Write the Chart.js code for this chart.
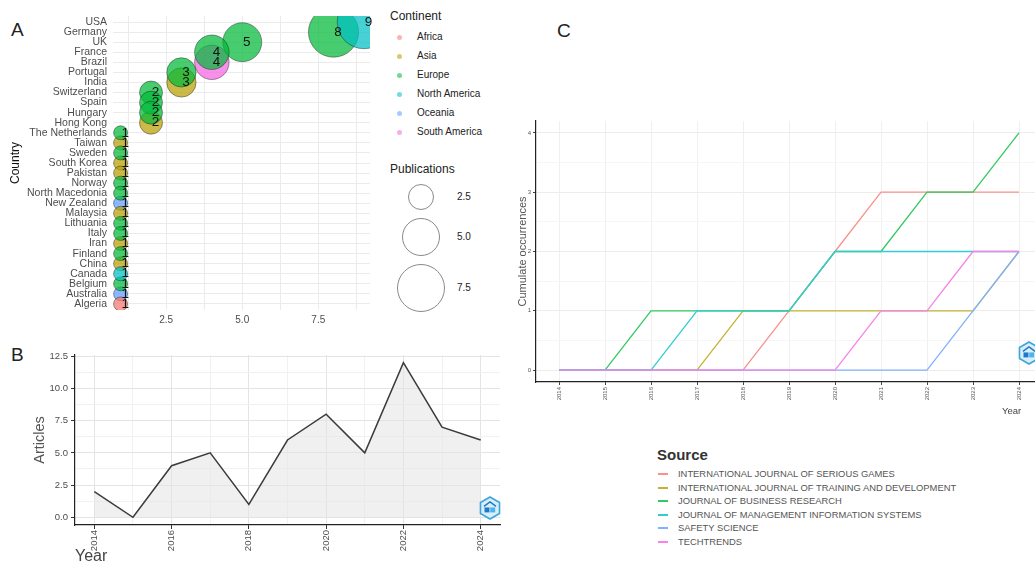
<!DOCTYPE html>
<html>
<head>
<meta charset="utf-8">
<script src="https://cdn.jsdelivr.net/npm/chart.js@4.4.1/dist/chart.umd.min.js"></script>
<style>
  html, body { margin: 0; padding: 0; background: #fff; }
  body { width: 1035px; height: 566px; position: relative; overflow: hidden; font-family: "Liberation Sans", Arial, sans-serif; }
  .abs { position: absolute; }
  .tag { position: absolute; font-size: 19px; line-height: 20px; color: #222; }
  .leg { position: absolute; white-space: nowrap; color: #222; }
</style>
</head>
<body>
<div class="tag" style="left:11px;top:20px">A</div>
<div class="tag" style="left:11px;top:345px">B</div>
<div class="tag" style="left:557px;top:21px">C</div>

<canvas id="chartA" class="abs" style="left:0;top:0" width="380" height="330"></canvas>
<canvas id="chartB" class="abs" style="left:0;top:335px" width="510" height="231"></canvas>
<canvas id="chartC" class="abs" style="left:510px;top:0" width="540" height="420"></canvas>

<div id="legendA"></div>
<div id="legendC"></div>
<div class="leg" style="left:1002px;top:405px;font-size:9.5px;color:#444">Year</div>

<script>
// ---- panel A: country production ----
const countries = ["USA", "Germany", "UK", "France", "Brazil", "Portugal", "India", "Switzerland", "Spain",
  "Hungary", "Hong Kong", "The Netherlands", "Taiwan", "Sweden", "South Korea", "Pakistan", "Norway",
  "North Macedonia", "New Zealand", "Malaysia", "Lithuania", "Italy", "Iran", "Finland", "China", "Canada",
  "Belgium", "Australia", "Algeria"];
const publications = [9, 8, 5, 4, 4, 3, 3, 2, 2, 2, 2, 1, 1, 1, 1, 1, 1, 1, 1, 1, 1, 1, 1, 1, 1, 1, 1, 1, 1];
const countryContinent = ["North America", "Europe", "Europe", "Europe", "South America", "Europe", "Asia",
  "Europe", "Europe", "Europe", "Asia", "Europe", "Asia", "Europe", "Asia", "Asia", "Europe", "Europe",
  "Oceania", "Asia", "Europe", "Europe", "Asia", "Europe", "Asia", "North America", "Europe", "Oceania", "Africa"];
const continents = ["Africa", "Asia", "Europe", "North America", "Oceania", "South America"];
const continentColors = ["#F8766D", "#B79F00", "#00BA38", "#00BFC4", "#619CFF", "#F564E3"];
const sizeLegendValues = [2.5, 5.0, 7.5];

// ---- panel B: annual production ----
const years = [2014, 2015, 2016, 2017, 2018, 2019, 2020, 2021, 2022, 2023, 2024];
const articles = [2, 0, 4, 5, 1, 6, 8, 5, 12, 7, 6];

// ---- panel C: sources' cumulative occurrences ----
const sources = ["INTERNATIONAL JOURNAL OF SERIOUS GAMES", "INTERNATIONAL JOURNAL OF TRAINING AND DEVELOPMENT",
  "JOURNAL OF BUSINESS RESEARCH", "JOURNAL OF MANAGEMENT INFORMATION SYSTEMS", "SAFETY SCIENCE", "TECHTRENDS"];
const sourceColors = ["#F8766D", "#B79F00", "#00BA38", "#00BFC4", "#619CFF", "#F564E3"];
const cumSeriousGames = [0, 0, 0, 0, 0, 1, 2, 3, 3, 3, 3];
const cumTraining     = [0, 0, 0, 0, 1, 1, 1, 1, 1, 1, 2];
const cumBusiness     = [0, 0, 1, 1, 1, 1, 2, 2, 3, 3, 4];
const cumMIS          = [0, 0, 0, 1, 1, 1, 2, 2, 2, 2, 2];
const cumSafety       = [0, 0, 0, 0, 0, 0, 0, 0, 0, 1, 2];
const cumTechtrends   = [0, 0, 0, 0, 0, 0, 0, 1, 1, 2, 2];
const cumSeries = [cumSeriousGames, cumTraining, cumBusiness, cumMIS, cumSafety, cumTechtrends];

function rgba(hex, a) {
  const n = parseInt(hex.slice(1), 16);
  return `rgba(${n >> 16},${(n >> 8) & 255},${n & 255},${a})`;
}
// solid colour blended toward white
function lighten(hex, t) {
  const n = parseInt(hex.slice(1), 16);
  const f = c => Math.round(c + (255 - c) * t);
  return `rgb(${f(n >> 16)},${f((n >> 8) & 255)},${f(n & 255)})`;
}
function bubbleRadius(v) { return Math.sqrt(Math.max(4, -33.75 + 82.75 * v)); }
function stepTicks(min, max, step) {
  const out = [];
  for (let v = min; v <= max + 1e-9; v += step) out.push({ value: +v.toFixed(4) });
  return out;
}
function isMultiple(v, m) { return Math.abs(v / m - Math.round(v / m)) < 1e-6; }

const tickFont = { family: "Liberation Sans", size: 10.5 };
const greyText = "#4d4d4d";

// small hexagon badge (decoration in the corners of B and C)
function drawBadge(ctx, cx, cy, s) {
  ctx.save();
  ctx.beginPath();
  for (let k = 0; k < 6; k++) {
    const a = -Math.PI / 2 + k * Math.PI / 3;
    const px = cx + s * Math.cos(a), py = cy + s * Math.sin(a);
    k ? ctx.lineTo(px, py) : ctx.moveTo(px, py);
  }
  ctx.closePath();
  ctx.fillStyle = "#d8eef9";
  ctx.fill();
  ctx.lineWidth = 1.6;
  ctx.strokeStyle = "#3ea5dc";
  ctx.stroke();
  ctx.fillStyle = "#1f78c8";
  ctx.fillRect(cx - s * 0.5, cy - s * 0.05, s * 0.45, s * 0.45);
  ctx.fillStyle = "#4fb3e8";
  ctx.fillRect(cx + 0.02 * s, cy - s * 0.05, s * 0.45, s * 0.45);
  ctx.beginPath();
  ctx.moveTo(cx - s * 0.55, cy - s * 0.15);
  ctx.lineTo(cx, cy - s * 0.55);
  ctx.lineTo(cx + s * 0.55, cy - s * 0.15);
  ctx.strokeStyle = "#1f78c8";
  ctx.lineWidth = 1.4;
  ctx.stroke();
  ctx.restore();
}

// ---------------- Panel A ----------------
const bubbleLabels = {
  id: "bubbleLabels",
  afterDatasetsDraw(chart) {
    const { ctx, scales: { x, y } } = chart;
    ctx.save();
    ctx.font = "13.5px 'Liberation Sans'";
    ctx.fillStyle = "#111";
    ctx.textAlign = "center";
    ctx.textBaseline = "middle";
    countries.forEach((c, i) => {
      const v = publications[i];
      ctx.fillText(String(v), x.getPixelForValue(v + 0.15), y.getPixelForValue(countries.length - 1 - i));
    });
    ctx.restore();
  }
};

const continentOrder = { "North America": 0, "Europe": 1 };
new Chart(document.getElementById("chartA"), {
  type: "bubble",
  data: {
    datasets: continents.map((c, k) => ({
      label: c,
      data: countries
        .map((n, i) => ({ x: publications[i], y: countries.length - 1 - i, cont: countryContinent[i] }))
        .filter(p => p.cont === c),
      backgroundColor: rgba(continentColors[k], 0.72),
      borderColor: "rgba(30,30,30,0.55)",
      borderWidth: 0.8,
      radius: ctx => bubbleRadius(ctx.raw ? ctx.raw.x : 1),
      order: continentOrder[c] ?? 2
    }))
  },
  options: {
    responsive: false,
    animation: false,
    layout: { autoPadding: false, padding: { top: 16, right: 10 } },
    plugins: { legend: { display: false }, tooltip: { enabled: false } },
    scales: {
      x: {
        type: "linear", min: 0.75, max: 9.2,
        afterBuildTicks: s => { s.ticks = stepTicks(1.25, 8.75, 1.25); },
        afterFit: s => { s.height = 20; },
        grid: { color: "#ebebeb", drawTicks: false },
        border: { display: false },
        ticks: { autoSkip: false, padding: 4, color: greyText, font: { family: "Liberation Sans", size: 10 },
          callback: v => isMultiple(v, 2.5) ? v.toFixed(1) : "" }
      },
      y: {
        type: "linear", min: -0.6, max: countries.length - 0.4,
        afterBuildTicks: s => { s.ticks = stepTicks(0, countries.length - 1, 1); },
        afterFit: s => { s.width = 113; },
        grid: { color: "#ebebeb", drawTicks: false },
        border: { display: false },
        ticks: { autoSkip: false, padding: 6, color: greyText, font: tickFont,
          callback: v => countries[countries.length - 1 - v] },
        title: { display: true, text: "Country", color: "#111", font: { family: "Liberation Sans", size: 12 },
          padding: { top: 8, bottom: 0 } }
      }
    }
  },
  plugins: [bubbleLabels]
});

// Panel A legends (continent colours + bubble sizes)
(function () {
  const box = document.getElementById("legendA");
  let html = `<div class="leg" style="left:390px;top:9px;font-size:12px;line-height:15px">Continent</div>`;
  continents.forEach((c, k) => {
    const cy = 37 + 19 * k;
    html += `<div class="abs" style="left:397px;top:${cy - 2.5}px;width:5px;height:5px;border-radius:50%;background:${rgba(continentColors[k], 0.55)}"></div>`;
    html += `<div class="leg" style="left:417px;top:${cy - 7}px;font-size:10px;line-height:14px">${c}</div>`;
  });
  html += `<div class="leg" style="left:390px;top:162px;font-size:12px;line-height:15px">Publications</div>`;
  const centers = [197, 237, 288];
  sizeLegendValues.forEach((v, k) => {
    const r = bubbleRadius(v);
    html += `<div class="abs" style="left:${421 - r}px;top:${centers[k] - r}px;width:${2 * r - 2}px;height:${2 * r - 2}px;border:1px solid #8a8a8a;border-radius:50%"></div>`;
    html += `<div class="leg" style="left:457px;top:${centers[k] - 7}px;font-size:10px;line-height:14px">${v.toFixed(1)}</div>`;
  });
  box.innerHTML = html;
})();

// ---------------- Panel B ----------------
new Chart(document.getElementById("chartB"), {
  type: "line",
  data: {
    datasets: [{
      data: years.map((y, i) => ({ x: y, y: articles[i] })),
      borderColor: "#3b3b3b",
      borderWidth: 1.5,
      backgroundColor: "rgba(228,228,228,0.55)",
      fill: "origin",
      pointRadius: 0,
      tension: 0
    }]
  },
  options: {
    responsive: false,
    animation: false,
    layout: { autoPadding: false, padding: { top: 20, right: 10 } },
    plugins: { legend: { display: false }, tooltip: { enabled: false } },
    scales: {
      x: {
        type: "linear", min: 2013.5, max: 2024.5,
        afterBuildTicks: s => { s.ticks = years.map(v => ({ value: v })); },
        afterFit: s => { s.height = 41; },
        grid: { color: c => (c.tick && c.tick.value % 2 === 0) ? "#e4e4e4" : "#f1f1f1",
          tickColor: c => (c.tick && c.tick.value % 2 === 0) ? "#333" : "rgba(0,0,0,0)", tickLength: 4 },
        border: { display: true, color: "#222", width: 1.2 },
        ticks: { autoSkip: false, minRotation: 90, maxRotation: 90, padding: 1, color: greyText,
          font: { family: "Liberation Sans", size: 9.5 }, callback: v => v % 2 === 0 ? String(v) : "" },
        title: { display: true, text: "Year", align: "start", color: "#444",
          font: { family: "Liberation Sans", size: 16 }, padding: { top: 0, bottom: 0 } }
      },
      y: {
        type: "linear", min: -0.6, max: 12.6,
        afterBuildTicks: s => { s.ticks = stepTicks(0, 12.5, 1.25); },
        afterFit: s => { s.width = 75; },
        grid: { color: c => (c.tick && isMultiple(c.tick.value, 2.5)) ? "#e4e4e4" : "#f1f1f1",
          tickColor: c => (c.tick && isMultiple(c.tick.value, 2.5)) ? "#333" : "rgba(0,0,0,0)", tickLength: 4 },
        border: { display: true, color: "#222", width: 1.2 },
        ticks: { autoSkip: false, padding: 3, color: greyText, font: { family: "Liberation Sans", size: 9.5 },
          callback: v => isMultiple(v, 2.5) ? v.toFixed(1) : "" },
        title: { display: true, text: "Articles", color: "#555",
          font: { family: "Liberation Sans", size: 14.5 }, padding: { top: 31, bottom: 0 } }
      }
    }
  },
  plugins: [{
    id: "badgeB",
    afterDraw(chart) { drawBadge(chart.ctx, 490, 173, 11); }
  }]
});

// ---------------- Panel C ----------------
new Chart(document.getElementById("chartC"), {
  type: "line",
  data: {
    datasets: sources.map((s, k) => ({
      label: s,
      data: years.map((y, i) => ({ x: y, y: cumSeries[k][i] })),
      borderColor: lighten(sourceColors[k], 0.2),
      borderWidth: 1.3,
      pointRadius: 0,
      fill: false,
      tension: 0,
      order: sources.length - k
    }))
  },
  options: {
    responsive: false,
    animation: false,
    layout: { autoPadding: false, padding: { top: 121, right: 8 } },
    plugins: { legend: { display: false }, tooltip: { enabled: false } },
    scales: {
      x: {
        type: "linear", min: 2013.5, max: 2024.5,
        afterBuildTicks: s => { s.ticks = years.map(v => ({ value: v })); },
        afterFit: s => { s.height = 38; },
        grid: { color: "#f0f0f0", tickColor: "#444", tickLength: 3 },
        border: { display: true, color: "#222", width: 1.2 },
        ticks: { autoSkip: false, minRotation: 90, maxRotation: 90, padding: 2, color: "#555",
          font: { family: "Liberation Sans", size: 6 }, callback: v => String(v) }
      },
      y: {
        type: "linear", min: -0.2, max: 4.2,
        afterBuildTicks: s => { s.ticks = stepTicks(0, 4, 0.5); },
        afterFit: s => { s.width = 26; },
        grid: { color: c => (c.tick && isMultiple(c.tick.value, 1)) ? "#ececec" : "#f6f6f6",
          tickColor: c => (c.tick && isMultiple(c.tick.value, 1)) ? "#444" : "rgba(0,0,0,0)", tickLength: 3 },
        border: { display: true, color: "#222", width: 1.2 },
        ticks: { autoSkip: false, padding: 2, color: "#555", font: { family: "Liberation Sans", size: 6 },
          callback: v => isMultiple(v, 1) ? String(v) : "" },
        title: { display: true, text: "Cumulate occurrences", color: "#555",
          font: { family: "Liberation Sans", size: 11 }, padding: { top: 6, bottom: 0 } }
      }
    }
  },
  plugins: [{
    id: "badgeC",
    afterDraw(chart) { drawBadge(chart.ctx, 519, 353, 11); }
  }]
});

// Panel C legend
(function () {
  const box = document.getElementById("legendC");
  let html = `<div class="leg" style="left:657px;top:445px;font-size:15px;line-height:19px;font-weight:bold;color:#333">Source</div>`;
  sources.forEach((s, k) => {
    const cy = 474 + 13.6 * k;
    html += `<div class="abs" style="left:658px;top:${Math.round(cy - 1)}px;width:10px;height:2px;background:${lighten(sourceColors[k], 0.2)}"></div>`;
    html += `<div class="leg" style="left:678px;top:${cy - 6}px;font-size:9.4px;line-height:12px;color:#555">${s}</div>`;
  });
  box.innerHTML = html;
})();
</script>
</body>
</html>
